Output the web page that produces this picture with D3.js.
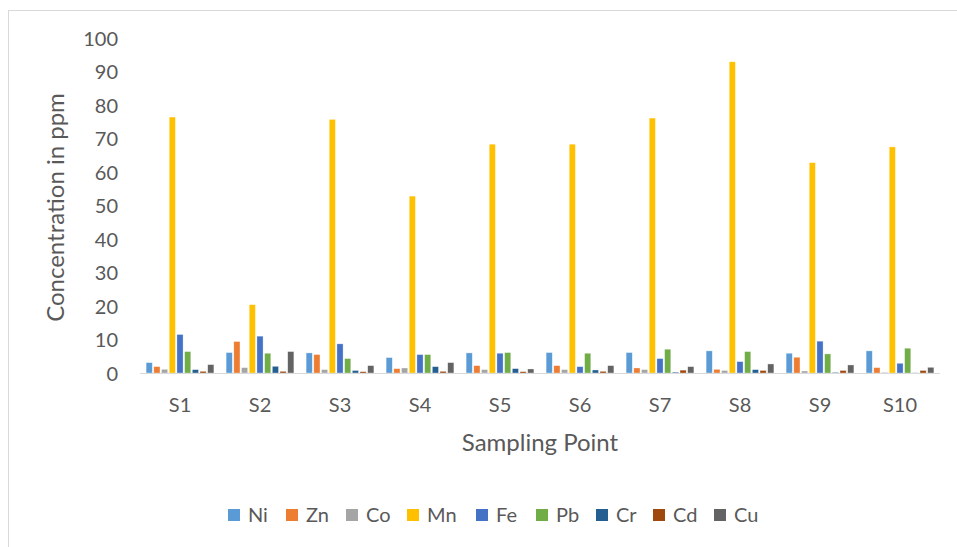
<!DOCTYPE html>
<html>
<head>
<meta charset="utf-8">
<script src="https://cdn.jsdelivr.net/npm/d3@7/dist/d3.min.js"></script>
<style>
  html, body { margin: 0; padding: 0; background: #fff; }
  svg { display: block; }
  text { font-family: Lato, "Open Sans", sans-serif; fill: #595959; }
</style>
</head>
<body>
<svg id="chart" width="957" height="547"></svg>
<script>
const categories = ["S1", "S2", "S3", "S4", "S5", "S6", "S7", "S8", "S9", "S10"];
const seriesNames = ["Ni", "Zn", "Co", "Mn", "Fe", "Pb", "Cr", "Cd", "Cu"];
const seriesColors = ["#5B9BD5", "#ED7D31", "#A5A5A5", "#FFC000", "#4472C4", "#70AD47", "#255E91", "#9E480E", "#636363"];

const Ni = [3.1, 6.1, 6.0, 4.6, 6.0, 6.1, 6.1, 6.6, 5.9, 6.6];
const Zn = [1.9, 9.4, 5.5, 1.3, 2.2, 2.2, 1.5, 1.1, 4.7, 1.6];
const Co = [1.1, 1.6, 1.0, 1.5, 1.0, 1.0, 1.0, 0.75, 0.6, 0.2];
const Mn = [76.4, 20.4, 75.7, 52.8, 68.3, 68.3, 76.1, 92.9, 62.8, 67.5];
const Fe = [11.5, 11.0, 8.7, 5.5, 5.9, 1.9, 4.3, 3.4, 9.5, 2.9];
const Pb = [6.4, 5.9, 4.3, 5.5, 6.1, 5.9, 7.1, 6.4, 5.7, 7.4];
const Cr = [1.0, 2.0, 0.75, 1.9, 1.3, 0.9, 0.25, 1.0, 0.2, 0.05];
const Cd = [0.5, 0.5, 0.4, 0.5, 0.4, 0.5, 0.85, 0.75, 0.75, 0.75];
const Cu = [2.5, 6.4, 2.2, 3.1, 1.2, 2.2, 1.9, 2.7, 2.4, 1.7];

const yTicks = [0, 10, 20, 30, 40, 50, 60, 70, 80, 90, 100];
const yTitle = "Concentration in ppm";
const xTitle = "Sampling Point";

const seriesValues = [Ni, Zn, Co, Mn, Fe, Pb, Cr, Cd, Cu];
const series = seriesNames.map((n, i) => ({ name: n, color: seriesColors[i], values: seriesValues[i] }));

const svg = d3.select("#chart");

// chart border
svg.append("rect")
  .attr("x", 8.5).attr("y", 10.5)
  .attr("width", 1000).attr("height", 600)
  .attr("fill", "none").attr("stroke", "#d9d9d9").attr("stroke-width", 1);

const plot = { left: 140, right: 940, top: 38, bottom: 373 };

const x0 = d3.scaleBand().domain(categories).range([plot.left, plot.right]).paddingInner(0).paddingOuter(0);
const bw = x0.bandwidth();
const x1 = d3.scaleBand().domain(seriesNames)
  .range([bw / 2 - 4.5 * 7.7, bw / 2 + 4.5 * 7.7])
  .paddingInner(0.2).paddingOuter(0.1);
const y = d3.scaleLinear().domain([0, 100]).range([plot.bottom, plot.top]);

// bars
const groups = svg.append("g").selectAll("g.cat")
  .data(categories).join("g")
  .attr("class", "cat")
  .attr("transform", d => `translate(${x0(d)},0)`);

groups.selectAll("rect")
  .data((c, ci) => series.map(s => ({ name: s.name, color: s.color, v: s.values[ci] })))
  .join("rect")
  .attr("x", d => x1(d.name))
  .attr("width", x1.bandwidth())
  .attr("y", d => y(d.v))
  .attr("height", d => y(0) - y(d.v))
  .attr("fill", d => d.color)
  .attr("stroke", "rgba(255,255,255,0.55)")
  .attr("stroke-width", 0.6);

// x axis baseline
svg.append("line")
  .attr("x1", plot.left).attr("x2", plot.right)
  .attr("y1", y(0) + 0.5).attr("y2", y(0) + 0.5)
  .attr("stroke", "#d9d9d9").attr("stroke-width", 1.2);

// x axis labels
const xAxis = d3.axisBottom(x0).tickSize(0).tickPadding(0);
const xg = svg.append("g").attr("transform", `translate(0,${plot.bottom})`).call(xAxis);
xg.select(".domain").remove();
xg.selectAll("text")
  .attr("dy", null).attr("y", 39)
  .style("font-size", "20px")
  .style("font-family", "Lato, 'Open Sans', sans-serif")
  .attr("fill", "#595959");

// y axis labels
const yAxis = d3.axisLeft(y).tickValues(yTicks).tickSize(0).tickPadding(0);
const yg = svg.append("g").attr("transform", `translate(118,0)`).call(yAxis);
yg.select(".domain").remove();
yg.selectAll("text")
  .attr("x", 0).attr("dy", "0.35em")
  .style("font-size", "20px")
  .style("font-family", "Lato, 'Open Sans', sans-serif")
  .attr("fill", "#595959");

// y title
svg.append("text")
  .attr("transform", `translate(64,${(plot.top + plot.bottom) / 2 + 2}) rotate(-90)`)
  .attr("text-anchor", "middle")
  .style("font-size", "24px")
  .text(yTitle);

// x title
svg.append("text")
  .attr("x", 540).attr("y", 451)
  .attr("text-anchor", "middle")
  .style("font-size", "24px")
  .text(xTitle);

// legend
const legendX = [228, 286, 346, 407, 476, 536, 596, 653, 714];
const lg = svg.append("g").selectAll("g").data(series).join("g")
  .attr("transform", (d, i) => `translate(${legendX[i]},509)`);
lg.append("rect").attr("width", 12).attr("height", 12).attr("fill", d => d.color);
lg.append("text").attr("x", 20).attr("y", 6).attr("dy", "0.35em")
  .style("font-size", "20px").text(d => d.name);
</script>
</body>
</html>
